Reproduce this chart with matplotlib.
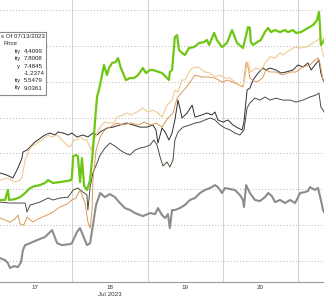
import matplotlib
matplotlib.use("Agg")
import matplotlib.pyplot as plt
from matplotlib.patches import Rectangle

# ---------------- data (x = hours since Jul 17 00:00, y = % change) ----------------
gray_t = [1.0, 2.6, 3.5, 4.2, 5.5, 6.7, 7.7, 8.3, 9.0, 10.6, 12.8, 15.3, 17.6, 19.2, 20.7, 23.3, 23.9, 25.5, 26.5, 27.8,
          28.7, 29.7, 30.6, 31.6, 32.9, 34.4, 36.0, 37.6, 39.2, 40.8, 42.4, 44.0, 45.6, 46.5, 48.8, 50.4, 51.3, 52.6, 53.6, 54.5,
          55.1, 55.8, 56.7, 58.3, 59.9, 61.5, 63.1, 64.7, 66.3, 67.9, 69.5, 70.4, 71.7, 72.7, 74.3, 75.8, 77.4, 78.4, 78.7, 79.4,
          80.6, 82.2, 83.8, 85.4, 86.4, 87.6, 88.6, 90.2, 91.8, 93.4, 95.0, 96.6, 98.1, 99.1, 99.7, 101.3, 102.3, 103.2, 103.9, 104.2]
gray_v = [-1.84, -1.96, -2.12, -2.40, -2.29, -2.35, -2.07, -1.40, -1.12, -1.01, -0.84, -0.67, -0.28, -1.01, -1.12, -1.06, -1.01, -0.39, -0.17, -0.73,
          -1.12, -1.01, 0.0, 1.12, 1.79, 1.56, 1.73, 1.56, 1.23, 0.95, 0.84, 0.67, 0.56, 0.50, 0.67, 0.61, 0.95, 0.56, 0.39, 0.61,
          -0.17, 0.84, 0.84, 0.95, 1.12, 1.40, 1.51, 1.79, 1.96, 2.07, 2.23, 2.12, 1.79, 2.07, 2.01, 1.96, 1.68, 1.40, 1.01, 2.23,
          1.79, 1.40, 1.34, 1.56, 1.79, 1.62, 1.28, 1.40, 1.23, 1.40, 1.23, 1.79, 1.84, 1.90, 2.12, 1.96, 2.07, 1.40, 0.84, 0.73]

green_t = [1.0, 2.6, 3.5, 3.9, 5.8, 7.4, 9.0, 10.6, 12.1, 13.7, 15.3, 16.3, 17.9, 20.1, 22.3, 23.6, 23.9, 24.3, 25.2, 25.8,
           26.5, 27.1, 27.8, 28.7, 29.7, 30.6, 31.3, 31.9, 32.5, 33.2, 34.1, 35.1, 35.7, 36.7, 37.9, 38.6, 39.5, 40.2, 41.1, 42.4,
           43.7, 45.0, 46.5, 47.5, 48.8, 49.7, 51.6, 52.6, 53.9, 54.8, 55.1, 55.8, 56.7, 57.4, 58.0, 59.0, 59.9, 61.2, 62.8, 64.4,
           66.0, 66.9, 67.6, 69.2, 70.1, 71.7, 73.3, 74.9, 76.5, 78.4, 79.4, 80.0, 80.6, 80.9, 81.6, 82.5, 84.1, 85.4, 86.4, 87.3,
           88.6, 90.2, 91.8, 92.7, 94.3, 95.3, 96.9, 99.1, 100.7, 102.0, 102.6, 102.9, 103.2, 103.9, 104.2]
green_v = [1.40, 1.40, 1.96, 1.40, 1.45, 1.56, 1.79, 2.07, 2.18, 2.23, 2.35, 2.51, 2.35, 2.40, 2.46, 2.51, 2.63, 3.85, 3.91, 3.85,
           2.40, 3.74, 2.18, 1.96, 2.51, 4.19, 5.87, 7.15, 7.54, 8.10, 8.94, 8.38, 8.77, 9.05, 9.11, 9.33, 8.77, 8.49, 8.10, 8.21,
           8.21, 8.38, 8.77, 8.49, 8.66, 8.66, 8.55, 8.49, 8.27, 8.10, 8.55, 8.66, 10.50, 10.61, 9.78, 9.61, 9.50, 9.89, 9.94, 10.17,
           10.22, 10.34, 10.06, 10.73, 10.34, 9.94, 10.17, 10.89, 10.17, 9.89, 10.61, 11.06, 11.01, 10.22, 10.06, 10.17, 10.34, 10.78, 11.01, 10.78,
           10.89, 10.78, 10.89, 10.78, 10.89, 10.73, 10.78, 11.01, 11.17, 11.45, 11.90, 11.17, 10.06, 10.22, 10.34]

tan_t = [1.0, 3.5, 5.8, 7.4, 8.0, 9.0, 10.6, 12.8, 14.4, 16.0, 17.6, 19.2, 20.7, 22.3, 23.3, 24.6, 25.5, 26.5, 27.8, 28.7,
         29.3, 30.0, 30.9, 31.9, 32.9, 34.4, 36.0, 37.3, 38.3, 40.2, 41.4, 42.7, 44.6, 46.5, 48.1, 49.7, 51.3, 52.6, 54.2, 55.8,
         56.7, 57.7, 59.0, 59.9, 61.2, 62.2, 64.1, 66.3, 67.9, 69.5, 71.1, 72.7, 74.3, 75.8, 77.4, 78.4, 79.0, 79.7, 80.3, 80.9,
         82.5, 84.1, 85.7, 87.0, 88.6, 90.2, 91.1, 93.4, 95.0, 96.6, 98.5, 100.7, 102.3, 102.9, 103.6, 104.2]
tan_v = [2.51, 2.63, 2.40, 2.51, 2.68, 3.63, 4.30, 4.58, 4.75, 5.03, 4.92, 5.03, 4.75, 4.47, 4.36, 4.75, 4.75, 4.92, 4.75, 4.75,
         4.47, 4.19, 4.75, 5.14, 5.47, 5.75, 5.70, 5.70, 6.03, 6.15, 6.26, 6.15, 6.31, 6.54, 6.31, 6.42, 6.26, 6.03, 6.70, 6.98,
         7.54, 7.43, 8.10, 8.10, 8.55, 8.77, 8.83, 8.55, 8.49, 8.27, 8.38, 8.21, 8.21, 7.99, 7.82, 7.77, 8.21, 9.11, 8.94, 8.55,
         8.77, 8.66, 9.11, 9.39, 9.33, 9.61, 9.50, 9.78, 9.94, 9.89, 9.94, 10.17, 10.34, 10.45, 9.78, 9.39]

orange_t = [1.0, 2.6, 4.2, 5.8, 6.7, 7.4, 8.6, 9.6, 11.5, 13.7, 16.0, 17.9, 20.1, 22.3, 23.9, 25.2, 26.5, 28.1, 29.0, 29.7,
            30.3, 30.6, 31.6, 32.9, 34.4, 36.0, 38.3, 40.2, 42.7, 45.0, 46.9, 49.1, 50.7, 52.6, 54.5, 56.1, 57.4, 59.0, 60.9, 63.1,
            65.3, 67.2, 69.5, 71.7, 73.6, 75.8, 78.4, 79.4, 80.0, 80.6, 81.6, 82.5, 83.8, 84.8, 85.7, 87.0, 88.9, 91.1, 93.4, 95.3,
            97.5, 99.7, 101.3, 102.3, 102.9, 103.9, 104.2]
orange_v = [0.39, 0.28, 0.17, 0.34, 0.56, 0.06, 0.0, 0.45, 0.17, 0.39, 0.56, 0.73, 1.01, 1.17, 1.40, 1.51, 1.96, 1.23, 0.17, -0.17,
            0.84, 2.51, 4.19, 4.92, 5.31, 5.47, 5.70, 5.59, 5.70, 5.59, 5.75, 5.59, 5.70, 5.47, 5.98, 6.26, 7.09, 7.43, 7.82, 8.38,
            8.27, 8.27, 8.21, 7.99, 8.10, 7.93, 7.71, 9.11, 8.83, 8.21, 8.10, 7.99, 8.10, 8.27, 8.66, 8.55, 8.55, 8.38, 8.55, 8.55,
            8.83, 8.94, 9.22, 9.33, 9.05, 8.10, 7.99]

dark_t = [1.0, 3.2, 5.1, 6.7, 8.0, 8.3, 9.6, 11.2, 12.1, 13.1, 14.4, 15.3, 16.9, 18.5, 19.5, 21.1, 22.7, 23.9, 25.5, 27.4,
          29.0, 30.6, 31.9, 32.9, 35.1, 37.0, 39.2, 41.4, 43.4, 45.6, 47.8, 49.7, 50.7, 51.3, 52.0, 52.6, 53.6, 54.8, 55.8, 56.7,
          57.7, 59.0, 60.6, 62.2, 63.1, 65.3, 66.9, 68.5, 69.5, 70.4, 72.0, 73.6, 75.2, 76.8, 78.1, 78.7, 79.7, 80.6, 81.6, 83.2,
          84.8, 85.7, 87.0, 88.9, 90.5, 92.1, 94.3, 95.9, 97.5, 99.1, 100.1, 101.3, 102.6, 103.2, 103.9, 104.2]
dark_v = [2.91, 2.79, 2.63, 3.18, 3.74, 4.08, 4.19, 4.47, 4.64, 4.75, 4.92, 5.03, 5.14, 5.03, 5.20, 5.14, 5.03, 5.14, 4.92, 5.03,
          4.92, 5.14, 5.03, 5.20, 5.42, 5.47, 5.59, 5.70, 5.59, 5.47, 5.47, 5.59, 5.31, 4.58, 5.03, 5.42, 5.20, 4.75, 5.14, 5.87,
          6.98, 5.98, 6.26, 6.70, 6.03, 6.15, 6.26, 6.15, 6.31, 5.87, 5.75, 5.87, 5.59, 5.42, 5.31, 5.75, 7.54, 7.65, 8.10, 8.49,
          8.77, 8.66, 8.77, 8.66, 8.49, 8.55, 8.66, 8.94, 8.83, 9.05, 8.66, 8.94, 9.22, 8.49, 8.10, 7.99]

olive_t = [1.0, 4.2, 7.4, 9.0, 9.6, 10.6, 13.7, 16.3, 17.9, 20.1, 22.7, 24.3, 25.8, 27.4, 28.7, 29.0, 29.7, 30.6, 31.9, 32.9,
           34.4, 36.0, 37.6, 39.2, 40.8, 42.4, 44.0, 45.6, 47.2, 48.8, 50.0, 51.0, 52.0, 52.9, 54.2, 55.1, 56.1, 56.7, 57.7, 59.3,
           61.5, 63.1, 64.7, 66.3, 67.9, 69.5, 71.1, 72.7, 74.3, 75.8, 77.4, 78.7, 79.7, 80.6, 82.2, 83.8, 85.4, 87.0, 88.9, 91.1,
           93.4, 95.3, 97.5, 99.7, 101.6, 102.6, 103.2, 103.9, 104.2]
olive_v = [1.28, 1.23, 1.23, 1.23, 0.73, 1.12, 1.28, 1.51, 1.40, 1.51, 1.56, 1.96, 2.07, 1.84, 1.68, 0.84, 2.12, 2.91, 3.46, 3.91,
           4.30, 4.58, 4.41, 4.19, 4.02, 3.91, 4.19, 4.30, 4.36, 4.47, 4.75, 4.47, 3.80, 3.30, 3.52, 3.24, 3.63, 4.75, 5.20, 5.47,
           5.59, 5.70, 5.75, 5.87, 5.98, 5.87, 5.59, 5.42, 5.31, 5.14, 5.03, 5.31, 6.54, 6.82, 7.09, 6.98, 7.15, 6.98, 7.09, 6.98,
           6.98, 6.87, 6.98, 7.15, 7.26, 7.37, 6.59, 6.42, 6.31]

day_labels = ["17", "18", "19", "20"]
day_centers = [12, 36, 60, 84]
day_bounds = [24, 48, 72, 96]
y_grid = [-2, 0, 2, 4, 6, 8, 10, 12]

# legend text as visible in the (cropped) reference
legend_header = "s Of 07/13/2023"
legend_sub = "Price"
legend_names = ["ity", "ity", "y", "", "ity", "ity"]
legend_values = ["4.4099", "7.8008", "7.4845", "-1.2374", "5.5479", "9.0361"]

# ---------------- figure ----------------
W, H = 324, 297
fig = plt.figure(figsize=(W / 100, H / 100), dpi=100)
ax = fig.add_axes([0, 15 / H, 1, 282 / H])
ax.set_xlim(1.0, 104.2)
ax.set_ylim(-3.18, 12.57)

ax.plot(gray_t, gray_v, color="#8c8c8c", lw=1.5, zorder=3)
ax.plot(olive_t, olive_v, color="#4e4c40", lw=0.7, zorder=4)
ax.plot(dark_t, dark_v, color="#2e2e2e", lw=0.7, zorder=4)
ax.plot(orange_t, orange_v, color="#d89a58", lw=0.7, zorder=5)
ax.plot(tan_t, tan_v, color="#f0cb90", lw=0.8, zorder=5)
ax.plot(green_t, green_v, color="#6ec614", lw=1.6, zorder=6)

ax.set_yticks(y_grid)
ax.set_yticklabels([])
ax.yaxis.grid(True, color="#b4b4b4", lw=0.7, ls=(0, (1, 2.2)))
ax.set_xticks(day_centers)
ax.set_xticklabels(day_labels, fontsize=4.5, color="#333333", family="Liberation Sans")
ax.set_xticks(day_bounds, minor=True)
ax.xaxis.grid(True, which="minor", color="#d4d4d4", lw=0.8)
ax.xaxis.grid(False, which="major")
ax.tick_params(axis="both", which="both", length=0, pad=2)
for s in ["left", "right", "top"]:
    ax.spines[s].set_visible(False)
ax.spines["bottom"].set_color("#9a9a9a")
ax.spines["bottom"].set_linewidth(0.8)

fig.text(110 / W, 1 - 294 / H, "Jul 2023", fontsize=4.5, color="#333333",
         ha="center", va="center", family="Liberation Sans")

# legend box (its left part lies outside the cropped view)
rect = Rectangle((-20 / W, 1 - 95 / H), 66 / W, 63 / H, transform=fig.transFigure,
                 facecolor="white", edgecolor="#8a8a8a", lw=0.8, zorder=10)
fig.add_artist(rect)
kw = dict(fontsize=4.4, color="#222222", va="center", family="Liberation Sans", zorder=11)
fig.text(1 / W, 1 - 36 / H, legend_header, ha="left", **kw)
fig.text(3 / W, 1 - 43.4 / H, legend_sub, ha="left", **kw)
for i, (nm, val) in enumerate(zip(legend_names, legend_values)):
    yy = 1 - (51.5 + 7.3 * i) / H
    if nm:
        fig.text(20.5 / W, yy, nm, ha="right", **kw)
    fig.text(24 / W, yy, val, ha="left", **kw)

fig.savefig("out.png", dpi=100)
